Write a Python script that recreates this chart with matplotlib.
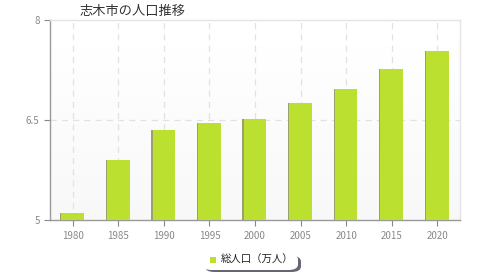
import numpy as np
import matplotlib.pyplot as plt
from matplotlib.patches import FancyBboxPatch, Rectangle

plt.rcParams['font.family'] = ['Noto Sans CJK JP', 'DejaVu Sans']

years = ["1980", "1985", "1990", "1995", "2000", "2005", "2010", "2015", "2020"]
population = [5.10, 5.90, 6.35, 6.45, 6.51, 6.75, 6.96, 7.27, 7.54]
yticks = [5, 6.5, 8]
ytick_labels = ["5", "6.5", "8"]

bar_color = "#bbe02f"

fig = plt.figure(figsize=(4.8, 2.8), dpi=100)
ax = fig.add_axes([50/480, 1 - 220/280, 410/480, 200/280])

x = np.arange(len(years))

# gradient background
grad = np.linspace(1.0, 0.97, 100).reshape(-1, 1)
ax.imshow(grad, extent=[-0.5, len(years) - 0.5, 5, 8], aspect="auto",
          cmap="gray", vmin=0, vmax=1, zorder=0, origin="upper")

# grid
for xi in x:
    ax.axvline(xi, color="#e2e2e2", lw=0.9, ls=(0, (5, 4)), zorder=1)
ax.axhline(6.5, color="#e2e2e2", lw=0.9, ls=(0, (5, 4)), zorder=1)

# bar shadows then bars
ax.bar(x - 0.025, np.array(population) - 5, bottom=5, width=0.5,
       color="#9aa070", zorder=2)
ax.bar(x, np.array(population) - 5, bottom=5, width=0.5,
       color=bar_color, zorder=3)

ax.set_xlim(-0.5, len(years) - 0.5)
ax.set_ylim(5, 8)
ax.set_xticks(x)
ax.set_xticklabels(years)
ax.set_yticks(yticks)
ax.set_yticklabels(ytick_labels)
ax.tick_params(colors="#888888", labelsize=7, length=4, width=0.8)
ax.tick_params(axis="x", pad=4)

for s in ["left", "bottom"]:
    ax.spines[s].set_color("#999999")
    ax.spines[s].set_linewidth(1.0)
for s in ["top", "right"]:
    ax.spines[s].set_color("#e4e4e4")
    ax.spines[s].set_linewidth(1.0)

fig.text(80/480, 1 - 11/280, "志木市の人口推移", fontsize=9.5, color="#333333",
         va="center", ha="left")

# legend box
shadow = FancyBboxPatch((205/480, 1 - 272/280), 96/480, 16/280,
                        boxstyle="round,pad=0,rounding_size=0.02",
                        transform=fig.transFigure, facecolor="#666677",
                        edgecolor="none")
box = FancyBboxPatch((202/480, 1 - 270/280), 96/480, 16/280,
                     boxstyle="round,pad=0,rounding_size=0.02",
                     transform=fig.transFigure, facecolor="white",
                     edgecolor="none")
fig.patches.extend([shadow, box])
fig.patches.append(Rectangle((210/480, 1 - 262.5/280), 6/480, 6/280,
                             transform=fig.transFigure, facecolor=bar_color,
                             edgecolor="none"))
fig.text(221/480, 1 - 259.5/280, "総人口（万人）", fontsize=7.5, color="#222222",
         va="center", ha="left")

fig.savefig("out.png", dpi=100)
